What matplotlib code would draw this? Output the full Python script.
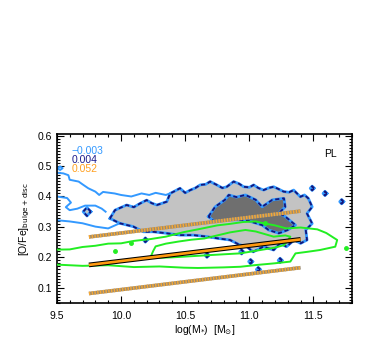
import numpy as np
import matplotlib
matplotlib.use("Agg")
import matplotlib.pyplot as plt
from matplotlib.patches import Polygon
from matplotlib.ticker import MultipleLocator

plt.rcParams['font.family'] = ['Liberation Sans', 'DejaVu Sans']
plt.rcParams['lines.scale_dashes'] = False

# outline of the outer (light grey) density level, [log M*, [O/Fe]]
grey_out_x = [9.914, 9.953, 10.044, 10.10, 10.148, 10.20, 10.24, 10.28, 10.357, 10.383,
              10.42, 10.46, 10.50, 10.54, 10.58, 10.617, 10.66, 10.695, 10.747, 10.79,
              10.825, 10.878, 10.92, 10.956, 11.00, 11.034, 11.07, 11.112, 11.15, 11.19,
              11.23, 11.268, 11.31, 11.346, 11.398, 11.43, 11.46, 11.49, 11.45, 11.49,
              11.44, 11.45, 11.40, 11.35, 11.29, 11.24, 11.19, 11.11, 11.03, 10.98,
              10.92, 10.85, 10.76, 10.67, 10.565, 10.46, 10.357, 10.25, 10.175, 10.096,
              9.99]
grey_out_y = [0.328, 0.355, 0.372, 0.365, 0.377, 0.388, 0.378, 0.372, 0.383, 0.410,
              0.418, 0.427, 0.412, 0.421, 0.428, 0.438, 0.440, 0.449, 0.438, 0.428,
              0.432, 0.449, 0.442, 0.432, 0.430, 0.438, 0.428, 0.421, 0.428, 0.432,
              0.424, 0.416, 0.414, 0.421, 0.399, 0.405, 0.394, 0.366, 0.344, 0.311,
              0.290, 0.257, 0.246, 0.257, 0.235, 0.246, 0.224, 0.235, 0.218, 0.235,
              0.242, 0.257, 0.262, 0.268, 0.273, 0.273, 0.279, 0.284, 0.284, 0.301,
              0.312]

# inner (dark grey) level
grey_in_x = [10.682, 10.734, 10.81, 10.84, 10.90, 10.97, 11.05, 11.10, 11.18, 11.27,
             11.28, 11.23, 11.28, 11.36, 11.30, 11.23, 11.15, 11.10, 10.97, 10.84, 10.73]
grey_in_y = [0.334, 0.366, 0.389, 0.405, 0.398, 0.405, 0.389, 0.366, 0.389, 0.394,
             0.366, 0.345, 0.334, 0.306, 0.290, 0.279, 0.290, 0.306, 0.323, 0.323, 0.317]

# small isolated islands of the grey population (centre x, centre y)
island_x = [9.735, 10.19, 10.67, 10.94, 11.01, 11.07, 11.24, 11.49, 11.59, 11.72]
island_y = [0.350, 0.257, 0.207, 0.218, 0.186, 0.160, 0.190, 0.427, 0.410, 0.383]

# light-blue open contour segments on the left
blue_top_x = [9.50, 9.55, 9.59, 9.60, 9.67, 9.70, 9.745, 9.80, 9.83, 9.86, 9.95, 10.0,
              10.08, 10.16, 10.22, 10.27, 10.35, 10.38]
blue_top_y = [0.478, 0.476, 0.470, 0.455, 0.449, 0.440, 0.427, 0.416, 0.405, 0.415, 0.410,
              0.405, 0.400, 0.410, 0.405, 0.412, 0.405, 0.410]
blue_mid_x = [9.50, 9.58, 9.61, 9.57, 9.60, 9.66, 9.72, 9.80, 9.85, 9.88]
blue_mid_y = [0.400, 0.395, 0.380, 0.365, 0.355, 0.360, 0.370, 0.370, 0.360, 0.350]
blue_bot_x = [9.50, 9.60, 9.70, 9.80, 9.90, 9.99]
blue_bot_y = [0.322, 0.318, 0.312, 0.301, 0.295, 0.312]

# green population, two levels
green_out_x = [9.45, 9.60, 9.70, 9.80, 9.90, 10.0, 10.1, 10.23, 10.35, 10.49, 10.60, 10.75,
               10.85, 10.95, 11.05, 11.11, 11.20, 11.29, 11.40, 11.53, 11.60, 11.685, 11.67,
               11.55, 11.45, 11.36, 11.32, 11.19, 11.06, 10.93, 10.80, 10.60, 10.49, 10.30,
               10.10, 9.90, 9.70, 9.50, 9.45]
green_out_y = [0.225, 0.226, 0.234, 0.238, 0.245, 0.246, 0.254, 0.260, 0.268, 0.283, 0.292,
               0.305, 0.310, 0.316, 0.318, 0.312, 0.305, 0.295, 0.298, 0.292, 0.280, 0.257,
               0.235, 0.224, 0.218, 0.213, 0.186, 0.180, 0.175, 0.169, 0.167, 0.165, 0.166,
               0.170, 0.168, 0.174, 0.172, 0.176, 0.176]
green_in_x = [10.23, 10.25, 10.27, 10.35, 10.45, 10.55, 10.65, 10.75, 10.85, 10.97, 11.05,
              11.19, 11.28, 11.32, 11.30, 11.27, 11.20, 11.10, 10.93, 10.80, 10.60, 10.40, 10.27]
green_in_y = [0.200, 0.220, 0.236, 0.245, 0.252, 0.258, 0.262, 0.272, 0.282, 0.290, 0.285,
              0.268, 0.272, 0.268, 0.255, 0.240, 0.232, 0.225, 0.213, 0.210, 0.205, 0.200, 0.198]
green_dot_x = [9.95, 10.08, 11.12, 11.75]
green_dot_y = [0.221, 0.246, 0.312, 0.232]

# fitted relation and its scatter
fit_x = [9.75, 11.4]
fit_y = [0.175, 0.259]
fit_up_y = [0.267, 0.352]
fit_lo_y = [0.081, 0.166]

labels = ['\u22120.003', '0.004', '0.052']
label_colors = ['#3399ff', '#1c1c8c', '#ffa020']

BLUE = '#3399ff'
NAVY = '#15157a'
GREEN = '#22ee22'

fig = plt.figure(figsize=(3.74, 3.37), dpi=100)
ax = fig.add_axes([0.152, 0.101, 0.789, 0.501])


def outlined(xs, ys, face):
    ax.add_patch(Polygon(np.column_stack([xs, ys]), closed=True, facecolor=face,
                         edgecolor='none', zorder=2))
    cx = list(xs) + [xs[0]]
    cy = list(ys) + [ys[0]]
    ax.plot(cx, cy, color=BLUE, lw=2.0, zorder=3)
    ax.plot(cx, cy, color=NAVY, lw=1.3, ls=(0, (3, 2)), zorder=3)


for xs, ys in [(blue_top_x, blue_top_y), (blue_mid_x, blue_mid_y), (blue_bot_x, blue_bot_y)]:
    ax.plot(xs, ys, color=BLUE, lw=1.4, zorder=2)
ax.plot([9.505, 9.525, 9.545, 9.525, 9.505], [0.493, 0.499, 0.493, 0.487, 0.493],
        color=BLUE, lw=1.4, zorder=2)

outlined(grey_out_x, grey_out_y, '#c3c3c3')
outlined(grey_in_x, grey_in_y, '#6f6f6f')

t = np.linspace(0, 2 * np.pi, 5)
for cx, cy in zip(island_x, island_y):
    rx = 0.03 if cx < 9.8 else 0.015
    ry = 0.014 if cx < 9.8 else 0.007
    xs = list(cx + rx * np.cos(t[:-1]))
    ys = list(cy + ry * np.sin(t[:-1]))
    outlined(xs, ys, '#c3c3c3' if cx < 9.8 else 'white')

ax.plot(green_out_x + [green_out_x[0]], green_out_y + [green_out_y[0]], color=GREEN, lw=1.4, zorder=4)
ax.plot(green_in_x + [green_in_x[0]], green_in_y + [green_in_y[0]], color=GREEN, lw=1.4, zorder=4)
ax.plot(green_dot_x, green_dot_y, 'o', color=GREEN, ms=2.5, zorder=4)

for ys in (fit_up_y, fit_lo_y):
    ax.plot(fit_x, ys, color='#9a8a70', lw=2.6, zorder=5, solid_capstyle='butt')
    ax.plot(fit_x, ys, color='#f5a836', lw=2.6, ls=(0, (1, 1)), zorder=5)
ax.plot(fit_x, fit_y, color='black', lw=3.4, zorder=6, solid_capstyle='butt')
ax.plot(fit_x, fit_y, color='#ff9a10', lw=1.9, zorder=6, solid_capstyle='butt')

for i, (s, c) in enumerate(zip(labels, label_colors)):
    ax.text(0.05, 0.90 - i * 0.053, s, color=c, fontsize=7.5, transform=ax.transAxes,
            ha='left', va='center')
ax.text(0.95, 0.88, 'PL', fontsize=7.5, transform=ax.transAxes, ha='right', va='center')

ax.set_xlim(9.5, 11.8)
ax.set_ylim(0.05, 0.605)
ax.set_xticks([9.5, 10.0, 10.5, 11.0, 11.5])
ax.set_xticklabels(['9.5', '10.0', '10.5', '11.0', '11.5'])
ax.set_yticks([0.1, 0.2, 0.3, 0.4, 0.5, 0.6])
ax.xaxis.set_minor_locator(MultipleLocator(0.1))
ax.yaxis.set_minor_locator(MultipleLocator(0.01))
ax.tick_params(which='both', direction='in', top=True, right=True, labelsize=7.5, width=0.8)
ax.tick_params(which='major', length=5)
ax.tick_params(which='minor', length=2.5)
ax.tick_params(axis='x', pad=6)
for sp in ax.spines.values():
    sp.set_linewidth(1.2)
ax.set_xlabel(r'log(M$_{*}$)  [M$_{\odot}$]', fontsize=7.5, labelpad=1)
ax.set_ylabel(r'[O/Fe]$_{\rm bulge+disc}$', fontsize=7.5, labelpad=4)

fig.savefig('out.png', dpi=100)
